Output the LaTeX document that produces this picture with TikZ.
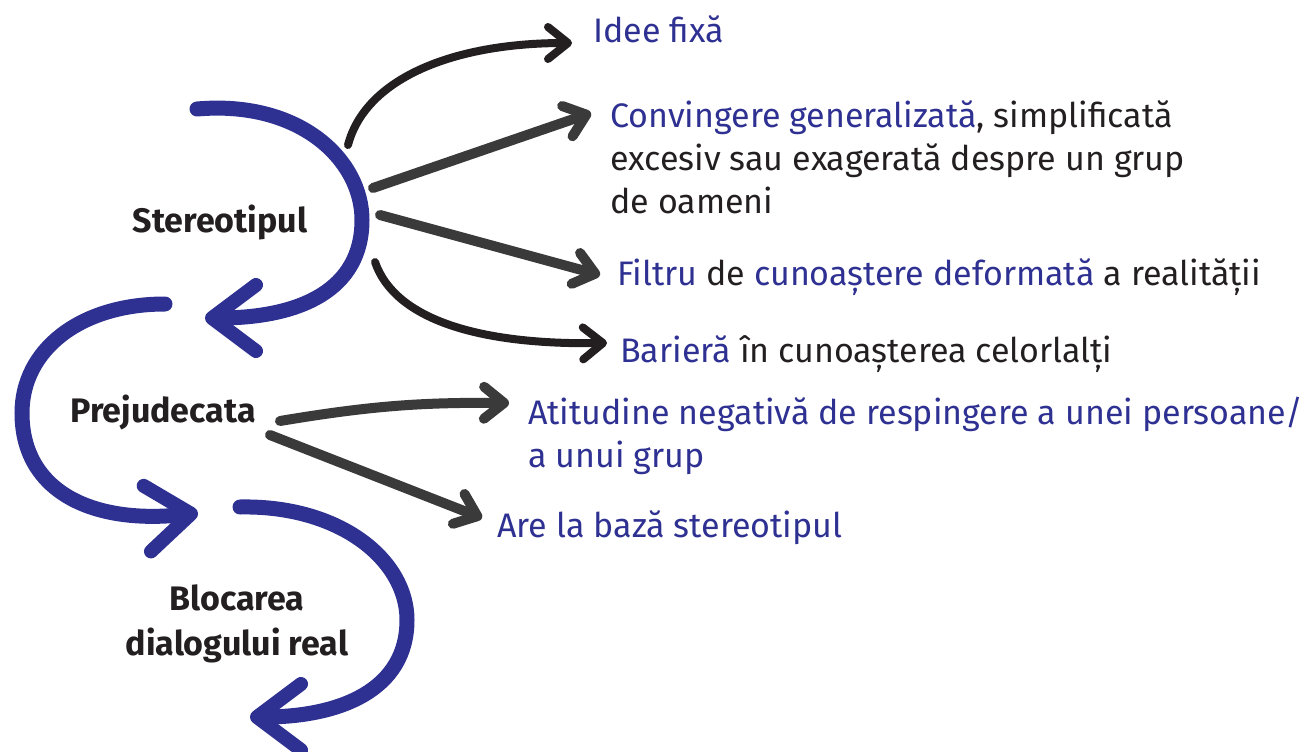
\documentclass[tikz,border=0pt]{standalone}
\usepackage{fontspec}
\setmainfont{Fira Sans}
\usetikzlibrary{arrows.meta}

\definecolor{stblue}{HTML}{2E3192}
\definecolor{stblack}{HTML}{231F20}
\definecolor{stgrey}{HTML}{3A3A3A}

\begin{document}
\begin{tikzpicture}[x=1pt,y=-1pt,
    bluearc/.style={draw=stblue,line width=15pt,line cap=round,
      -{Straight Barb[length=44pt,width=66pt,line width=14pt,round]}},
    darkarrow/.style={draw=stblack,line width=8pt,line cap=round,
      -{Straight Barb[length=20pt,width=32pt,round]}},
    greyarrow/.style={darkarrow,draw=stgrey,line width=10pt},
    mainlabel/.style={font=\bfseries\fontsize{34}{45}\selectfont,text=stblack,
      align=center,anchor=base,inner sep=0pt},
    entry/.style={font=\fontsize{34}{43}\selectfont,text=stblack,
      align=left,anchor=base west,inner sep=0pt}]
      \useasboundingbox (0,0) rectangle (1315,752);

      % base = last line of a node
      \node[mainlabel] (ster) at (220,232) {Stereotipul};
      \node[mainlabel] (prej) at (163,422) {Prejudecata};
      \node[mainlabel] (bloc) at (237,655) {Blocarea\\dialogului real};

      \node[entry] (idee) at (593,43) {\color{stblue}Idee fixă};
      \node[entry] (conv) at (610,213) {{\color{stblue}Convingere generalizată}, simplificată\\excesiv sau exagerată despre un grup\\de oameni};
      \node[entry] (filt) at (617,285) {{\color{stblue}Filtru} de {\color{stblue}cunoaștere deformată} a realității};
      \node[entry] (bar)  at (620,362) {{\color{stblue}Barieră} în cunoașterea celorlalți};
      \node[entry,text=stblue] (atit) at (528,467) {Atitudine negativă de respingere a unei persoane/\\a unui grup};
      \node[entry,text=stblue] (are)  at (497,537) {Are la bază stereotipul};

      % blue loops
      \coordinate (l1) at (197,109);
      \coordinate (e1) at (205,318);
      \coordinate (l2) at (165,304);
      \coordinate (e2) at (198,513);
      \coordinate (l3) at (240,507);
      \coordinate (e3) at (250,717);
      \draw[bluearc] (l1) .. controls (300,100) and (362,160) .. (362,220)
                          .. controls (362,290) and (300,318) .. (e1);
      \draw[bluearc] (l2) .. controls (80,304) and (22,350) .. (22,413)
                          .. controls (22,490) and (90,525) .. (e2);
      \draw[bluearc] (l3) .. controls (340,505) and (407,560) .. (407,620)
                          .. controls (407,690) and (340,717) .. (e3);

      % arrows from the labels
      \coordinate (s1) at (348,145);
      \coordinate (s2) at (373,188);
      \coordinate (s3) at (380,215);
      \coordinate (s4) at (375,262);
      \coordinate (p1) at (280,421);
      \coordinate (p2) at (270,435);
      \draw[darkarrow] (s1) .. controls (365,80) and (450,43) .. ([xshift=-21pt]idee.base west);
      \draw[greyarrow] (s2) -- ([xshift=-19pt,yshift=100pt]conv.base west);
      \draw[greyarrow] (s3) -- ([xshift=-17pt,yshift=10pt]filt.base west);
      \draw[darkarrow] (s4) .. controls (395,320) and (480,345) .. ([xshift=-13pt,yshift=19pt]bar.base west);
      \draw[greyarrow] (p1) to[bend left=5] ([xshift=-19pt,yshift=64pt]atit.base west);
      \draw[greyarrow] (p2) -- ([xshift=-15pt,yshift=19pt]are.base west);
    \end{tikzpicture}
\end{document}
